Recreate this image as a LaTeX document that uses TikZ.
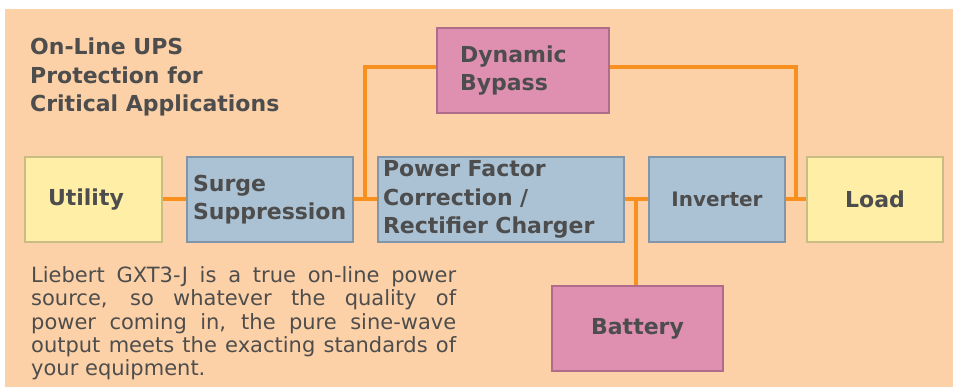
\documentclass[tikz,border=0pt]{standalone}
\usepackage{fontspec}
\setmainfont{DejaVu Sans}

\begin{document}
\begin{tikzpicture}[x=1pt, y=-1pt,
    box/.style={draw, rectangle, line width=2pt, inner sep=0pt, minimum height=85pt,
        text=textColour, font=\bfseries\fontsize{22}{28.5}\selectfont},
    utilityBox/.style={box, fill=yellowFill, draw=yellowBorder},
    stageBox/.style={box, fill=blueFill, draw=blueBorder},
    auxBox/.style={box, fill=pinkFill, draw=pinkBorder},
    wire/.style={draw=wireColour, line width=4pt},
    heading/.style={inner sep=0pt, align=left, text=textColour,
        font=\bfseries\fontsize{22}{28.5}\selectfont},
    note/.style={inner sep=0pt, text width=425pt, align=justify, text=textColour,
        font=\fontsize{21}{23.3}\selectfont}]

    \definecolor{panelColour}{HTML}{FDD1A7}
    \definecolor{textColour}{HTML}{4D4D4D}
    \definecolor{yellowFill}{HTML}{FFEFA6}
    \definecolor{yellowBorder}{HTML}{C9BD83}
    \definecolor{blueFill}{HTML}{ABC2D4}
    \definecolor{blueBorder}{HTML}{8196A9}
    \definecolor{pinkFill}{HTML}{DF8FB0}
    \definecolor{pinkBorder}{HTML}{B06C8B}
    \definecolor{wireColour}{HTML}{F7901E}

    % Page and panel
    \useasboundingbox (0,0) rectangle (953,387);
    \fill[panelColour] (5,9) rectangle (953,387);

    % Title
    \node[heading, anchor=north west] (title) at (30,38)
        {On-Line UPS\\Protection for\\Critical Applications};

    % Main power path
    \node[utilityBox, minimum width=137pt, text width=91pt, align=left] (utility) at (93.5,199.5) {Utility};
    \node[stageBox, minimum width=166pt, text width=154pt, align=left] (surge) at (270,199.5) {Surge\\Suppression};
    \node[stageBox, minimum width=246pt, text width=236pt, align=left] (pfc) at (501,199.5) {Power Factor\\Correction /\\Rectifier Charger};
    \node[stageBox, minimum width=136pt, font=\bfseries\fontsize{20}{24}\selectfont] (inverter) at (717,199.5) {Inverter};
    \node[utilityBox, minimum width=136pt] (load) at (875,199.5) {Load};

    % Bypass and battery
    \node[auxBox, minimum width=172pt, text width=126pt, align=left] (bypass) at (523,70.5) {Dynamic\\Bypass};
    \node[auxBox, minimum width=171pt] (battery) at (637.5,328.5) {Battery};

    % Wires
    \coordinate (inJoin) at (365,199.5);
    \coordinate (outJoin) at (796,199.5);
    \coordinate (batJoin) at (636,199.5);

    \draw[wire] (utility.east) -- (surge.west);
    \draw[wire] (surge.east) -- (pfc.west);
    \draw[wire] (pfc.east) -- (inverter.west);
    \draw[wire] (inverter.east) -- (load.west);
    \draw[wire] (inJoin) |- ([yshift=3.5pt]bypass.west);
    \draw[wire] ([yshift=3.5pt]bypass.east) -| (outJoin);
    \draw[wire] (batJoin) -- (batJoin |- battery.north);

    % Description
    \node[note, anchor=north west] (summary) at (31,266.5)
        {\tolerance=10000 Liebert GXT3-J is a true on-line power\linebreak
        source, so whatever the quality of\linebreak
        power coming in, the pure sine-wave\linebreak
        output meets the exacting standards of\linebreak
        your equipment.};

\end{tikzpicture}
\end{document}
